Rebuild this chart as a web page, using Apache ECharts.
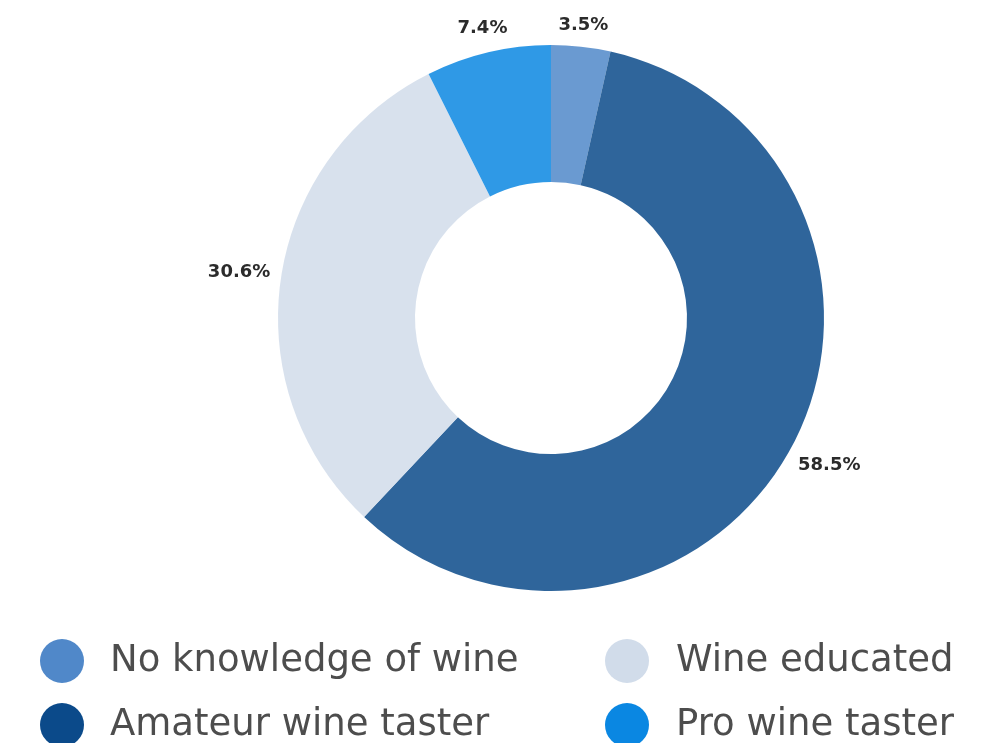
<!DOCTYPE html>
<html>
<head>
<meta charset="utf-8">
<script src="https://cdn.jsdelivr.net/npm/echarts@6/dist/echarts.min.js"></script>
<style>html,body{margin:0;padding:0;background:#fff;}#c{width:1001px;height:743px;}</style>
</head>
<body>
<div id="c"></div>
<script>
const categories = ['No knowledge of wine', 'Amateur wine taster', 'Wine educated', 'Pro wine taster'];
const values = [3.5, 58.5, 30.6, 7.4];
const colors = ['#5088c9', '#0b4a8a', '#d1dcea', '#0a87e2'];
const legendLeft = ['No knowledge of wine', 'Amateur wine taster'];
const legendRight = ['Wine educated', 'Pro wine taster'];

const CX = 551, CY = 318, R_OUT = 273, R_IN = 136;
const total = values.reduce((a, b) => a + b, 0);

const chart = echarts.init(document.getElementById('c'), null, {renderer: 'canvas'});
const legendText = {fontFamily: 'DejaVu Sans', fontSize: 37, color: '#4d4d4d'};
chart.setOption({
  animation: false,
  legend: [
    {orient: 'vertical', left: 40, top: 639, height: 200, padding: 0, itemWidth: 44, itemHeight: 44, itemGap: 20,
     icon: 'circle', data: legendLeft, itemStyle: {opacity: 1}, selectedMode: false,
     textStyle: Object.assign({padding: [0, 0, 0, 21]}, legendText)},
    {orient: 'vertical', left: 605, top: 639, height: 200, padding: 0, itemWidth: 44, itemHeight: 44, itemGap: 20,
     icon: 'circle', data: legendRight, itemStyle: {opacity: 1}, selectedMode: false,
     textStyle: Object.assign({padding: [0, 0, 0, 22]}, legendText)}
  ],
  series: [{
    type: 'pie',
    center: [CX, CY],
    radius: [R_IN, R_OUT],
    startAngle: 90,
    clockwise: true,
    avoidLabelOverlap: false,
    itemStyle: {opacity: 0.85, borderWidth: 0},
    emphasis: {disabled: true},
    label: {
      show: true, position: 'outside', opacity: 1,
      formatter: p => p.value.toFixed(1) + '%',
      fontFamily: 'DejaVu Sans', fontWeight: 'bold', fontSize: 18, color: '#2b2b2b'
    },
    labelLine: {show: false},
    labelLayout: function (params) {
      const i = params.dataIndex;
      let cum = 0;
      for (let k = 0; k < i; k++) cum += values[k];
      const a = (cum + values[i] / 2) / total * Math.PI * 2;
      const s = Math.sin(a), c = Math.cos(a);
      const w = params.labelRect.width, h = params.labelRect.height;
      const d = R_OUT + 10 + (w / 2) * Math.abs(s) + (h / 2) * Math.abs(c);
      return {x: CX + d * s, y: CY - d * c, align: 'center', verticalAlign: 'middle'};
    },
    data: categories.map((n, i) => ({name: n, value: values[i], itemStyle: {color: colors[i]}}))
  }]
});
</script>
</body>
</html>
